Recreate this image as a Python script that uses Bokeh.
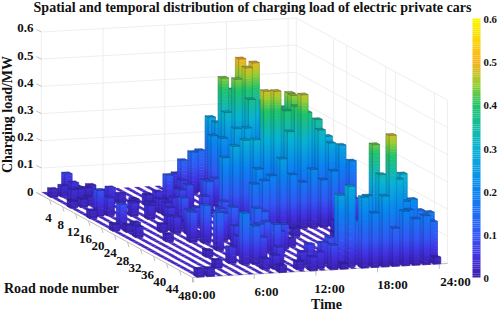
import numpy as np
from bokeh.plotting import figure
from bokeh.models import Range1d
from bokeh.core.properties import value
from bokeh.embed import file_html
from bokeh.resources import INLINE

title = "Spatial and temporal distribution of charging load of electric private cars"
z_ticks = [0, 0.1, 0.2, 0.3, 0.4, 0.5, 0.6]
z_labels = ["0", "0.1", "0.2", "0.3", "0.4", "0.5", "0.6"]
node_ticks = [4, 8, 12, 16, 20, 24, 28, 32, 36, 40, 44, 48]
time_ticks = [0, 6, 12, 18, 24]
time_labels = ["0:00", "6:00", "12:00", "18:00", "24:00"]

# Non-zero loads (MW): one pair of lists per hour, node number and load
n00 = [3, 9, 15, 22, 48];                  v00 = [.03, .025, .03, .025, .03]
n01 = [3, 6, 9, 14, 21, 23, 26, 48];       v01 = [.04, .045, .03, .095, .09, .026, .04, .03]
n02 = [1, 3, 5, 8, 14, 22];                v02 = [.07, .05, .04, .03, .065, .027]
n03 = [1, 3, 4, 9, 29, 44];                v03 = [.02, .02, .035, .03, .027, .03]
n04 = [2, 5, 8, 15, 24, 38];               v04 = [.03, .03, .06, .05, .03, .025]
n05 = [4, 8, 12, 17, 23, 25, 30, 42];      v05 = [.02, .035, .03, .05, .05, .06, .11, .06]
n06 = [9, 14, 20, 23, 26, 28, 31, 35, 43]; v06 = [.02, .04, .06, .03, .09, .025, .14, .14, .19]
n07 = [10, 14, 16, 21, 28, 38, 43, 46];    v07 = [.04, .05, .05, .1, .08, .07, .14, .04]
n08 = [7, 10, 13, 15, 22, 30, 34, 38, 42, 46, 48]
v08 = [.02, .05, .04, .06, .07, .1, .08, .07, .09, .05, .026]
n09 = [10, 14, 26, 30, 34, 38, 44];        v09 = [.108, .08, .09, .12, .1, .11, .065]
n10 = [9, 13, 18, 24, 30, 34, 37, 40, 47]; v10 = [.05, .09, .08, .1, .08, .14, .11, .12, .03]
n11 = [8, 10, 16, 21, 33, 38, 45, 48];     v11 = [.072, .065, .12, .24, .12, .08, .05, .05]
n12 = [3, 5, 12, 18, 21, 27, 34, 36, 44, 47]
v12 = [.063, .124, .096, .146, .28, .18, .03, .09, .07, .06]
n13 = [5, 12, 20, 21, 25, 27, 35, 45, 48]; v13 = [.152, .1, .176, .3, .22, .19, .03, .08, .09]
n14 = [4, 8, 11, 20, 21, 26, 44, 47, 48];  v14 = [.15, .23, .24, .18, .3, .2, .09, .265, .02]
n15 = [4, 6, 8, 9, 12, 21, 26, 30, 47];    v15 = [.27, .264, .44, .32, .28, .476, .26, .03, .296]
n16 = [8, 9, 12, 19, 21, 26, 46, 48];      v16 = [.396, .44, .28, .39, .474, .2, .16, .26]
n17 = [7, 9, 10, 18, 21, 22, 26, 46, 48];  v17 = [.5, .48, .37, .34, .4, .33, .17, .25, .2]
n18 = [8, 18, 19, 20, 21, 23, 26, 33, 45, 47, 48]
v18 = [.49, .34, .45, .448, .414, .47, .215, .03, .43, .333, .26]
n19 = [7, 14, 20, 21, 26, 30, 45, 47, 48]; v19 = [.34, .363, .38, .39, .175, .05, .28, .475, .14]
n20 = [18, 21, 22, 25, 26, 46, 48];        v20 = [.332, .362, .33, .036, .205, .305, .2]
n21 = [20, 21, 22, 23, 44, 45, 46, 48];    v21 = [.288, .298, .28, .18, .31, .215, .19, .17]
n22 = [21, 22, 26, 44, 48];                v22 = [.25, .27, .1, .214, .18]
n23 = [21, 22, 43, 46, 47, 48];            v23 = [.19, .21, .165, .177, .15, .025]

hours_nodes = [n00, n01, n02, n03, n04, n05, n06, n07, n08, n09, n10, n11,
               n12, n13, n14, n15, n16, n17, n18, n19, n20, n21, n22, n23]
hours_loads = [v00, v01, v02, v03, v04, v05, v06, v07, v08, v09, v10, v11,
               v12, v13, v14, v15, v16, v17, v18, v19, v20, v21, v22, v23]

# colour map anchors (load -> rgb)
cm_pos = [0, .05, .1, .2, .3, .4, .45, .5, .6]
cm_rgb = [(59, 31, 170), (66, 50, 225), (50, 88, 245), (10, 132, 240), (8, 178, 212),
          (32, 196, 106), (156, 205, 44), (250, 178, 28), (250, 248, 0)]

def rgb(z, k=1.0):
    c = [np.interp(z, cm_pos, [a[m] for a in cm_rgb]) * k for m in range(3)]
    return "#%02x%02x%02x" % tuple(int(round(min(255, v))) for v in c)

# oblique projection of (node, hour, load) onto the page
def X(n, t):
    return 36 + 3.25 * n + 10.28 * t
def Y(n, t, z=0.0):
    return 192 + 1.77 * n - 0.565 * t - 272 * z

N_MIN, N_MAX, T_MIN, T_MAX, Z_MAX = 1.5, 48, 0, 24.8, 0.6

p = figure(width=498, height=312, x_range=Range1d(0, 498), y_range=Range1d(312, 0),
           toolbar_location=None, output_backend="svg", min_border=0, outline_line_color=None)
p.axis.visible = False
p.grid.visible = False

# walls
wall = "#ececec"
wx, wy = [], []
for z in z_ticks:
    wx.append([X(N_MAX, T_MAX), X(N_MIN, T_MAX), X(N_MIN, T_MIN)])
    wy.append([Y(N_MAX, T_MAX, z), Y(N_MIN, T_MAX, z), Y(N_MIN, T_MIN, z)])
for t in time_ticks + [T_MAX]:
    wx.append([X(N_MIN, t)] * 2); wy.append([Y(N_MIN, t), Y(N_MIN, t, Z_MAX)])
for n in [13, 17, 29, 32, 44, 48]:
    wx.append([X(n, T_MAX)] * 2); wy.append([Y(n, T_MAX), Y(n, T_MAX, Z_MAX)])
p.multi_line(wx, wy, line_color=wall, line_width=0.9)

# floor edges and ticks
ex = [[X(N_MIN - 1.5, T_MIN), X(N_MAX, T_MIN), X(N_MAX, T_MAX)]]
ey = [[Y(N_MIN - 1.5, T_MIN), Y(N_MAX, T_MIN), Y(N_MAX, T_MAX)]]
for n in node_ticks:
    ex.append([X(n, T_MIN), X(n, T_MIN) + 1.5]); ey.append([Y(n, T_MIN), Y(n, T_MIN) + 5])
for t in time_ticks:
    ex.append([X(N_MAX, t)] * 2); ey.append([Y(N_MAX, t), Y(N_MAX, t) + 5])
for z in z_ticks:
    ex.append([X(N_MIN, 0), X(N_MIN, 0) - 5]); ey.append([Y(N_MIN, 0, z), Y(N_MIN, 0, z) - 2.5])
p.multi_line(ex, ey, line_color="#b8b8b8", line_width=0.9)

# bars, back to front
xs, ys, fc, lc, la, lw, fa = [], [], [], [], [], [], []
def add(qx, qy, fill, line, alpha, width, falpha=1.0):
    xs.append(qx); ys.append(qy); fc.append(fill); lc.append(line)
    la.append(alpha); lw.append(width); fa.append(falpha)

BAND = 0.01
edge = "#161650"
TW0, TW1, NW = 0.45, 1.15, 1.0
for j in range(1, 49):
    for i in range(23, -1, -1):
        z = 0.0
        if j in hours_nodes[i]:
            z = hours_loads[i][hours_nodes[i].index(j)]
        t0, t1 = i + TW0, i + TW1
        n0, n1 = j - NW, j
        if z > 0:
            nb = max(1, int(np.ceil(z / BAND)))
            for b in range(nb):
                za, zb = z * b / nb, z * (b + 1) / nb
                c = rgb((za + zb) / 2)
                c2 = rgb((za + zb) / 2, 0.95)
                add([X(n0, t0), X(n1, t0), X(n1, t0), X(n0, t0)],
                    [Y(n0, t0, za), Y(n1, t0, za), Y(n1, t0, zb), Y(n0, t0, zb)], c2, c2, 1, 0.6)
                add([X(n1, t0), X(n1, t1), X(n1, t1), X(n1, t0)],
                    [Y(n1, t0, za), Y(n1, t1, za), Y(n1, t1, zb), Y(n1, t0, zb)], c, c, 1, 0.6)
            add([X(n0, t0), X(n1, t0), X(n1, t0), X(n0, t0)],
                [Y(n0, t0), Y(n1, t0), Y(n1, t0, z), Y(n0, t0, z)], "#000000", edge, 0.22, 0.6, 0.0)
            add([X(n1, t0), X(n1, t1), X(n1, t1), X(n1, t0)],
                [Y(n1, t0), Y(n1, t1), Y(n1, t1, z), Y(n1, t0, z)], "#000000", edge, 0.22, 0.6, 0.0)
            add([X(n0, t0), X(n1, t0), X(n1, t1), X(n0, t1)],
                [Y(n0, t0, z), Y(n1, t0, z), Y(n1, t1, z), Y(n0, t1, z)], rgb(z, 0.82), edge, 0.35, 0.6)
        else:
            s0, s1 = i + 0.5, i + 0.95
            add([X(n0, s0), X(n1, s0), X(n1, s1), X(n0, s1)],
                [Y(n0, s0), Y(n1, s0), Y(n1, s1), Y(n0, s1)], rgb(0, 1.12), rgb(0, 1.12), 0.6, 0.3)
p.patches(xs, ys, fill_color=fc, fill_alpha=fa, line_color=lc, line_alpha=la, line_width=lw)

# colour bar
cb_l, cb_r, cb_t, cb_b = 472, 480, 18, 277
lev = np.linspace(0, Z_MAX, 121)
cb_y = lambda z: cb_b - (cb_b - cb_t) * z / Z_MAX
p.quad(left=cb_l, right=cb_r, bottom=[cb_y(a) for a in lev[:-1]], top=[cb_y(a) for a in lev[1:]],
       fill_color=[rgb((a + b) / 2) for a, b in zip(lev[:-1], lev[1:])], line_color=None)

FONT = value("Liberation Serif")
def label(x, y, texts, size, align="center", angle=0.0):
    p.text(x, y, text=texts, text_font=FONT, text_font_style="bold", text_font_size=size,
           text_align=align, text_baseline="middle", text_color="#111111", angle=angle)

label([252], [7], [title], "14px")
label([33] * len(z_ticks), [Y(N_MIN, 0, z) - 3.5 for z in z_ticks], z_labels, "13px", "right")
label([483] * len(z_ticks), [cb_y(z) + 1 for z in z_ticks], z_labels, "10.8px", "left")
label([X(n, 0) - 1 - 7 * (n - 4) / 44 for n in node_ticks], [Y(n, 0) + 18.5 for n in node_ticks],
      [str(n) for n in node_ticks], "13px")
label([X(48, t) + 11 + 0.22 * t for t in time_ticks], [Y(48, t) + 17.5 for t in time_ticks],
      time_labels, "13px")
label([326], [304], ["Time"], "14px")
label([61], [288], ["Road node number"], "14px")
label([7], [114], ["Charging load/MW"], "14px", angle=np.pi / 2)

open("out.html", "w").write(file_html(p, INLINE))
